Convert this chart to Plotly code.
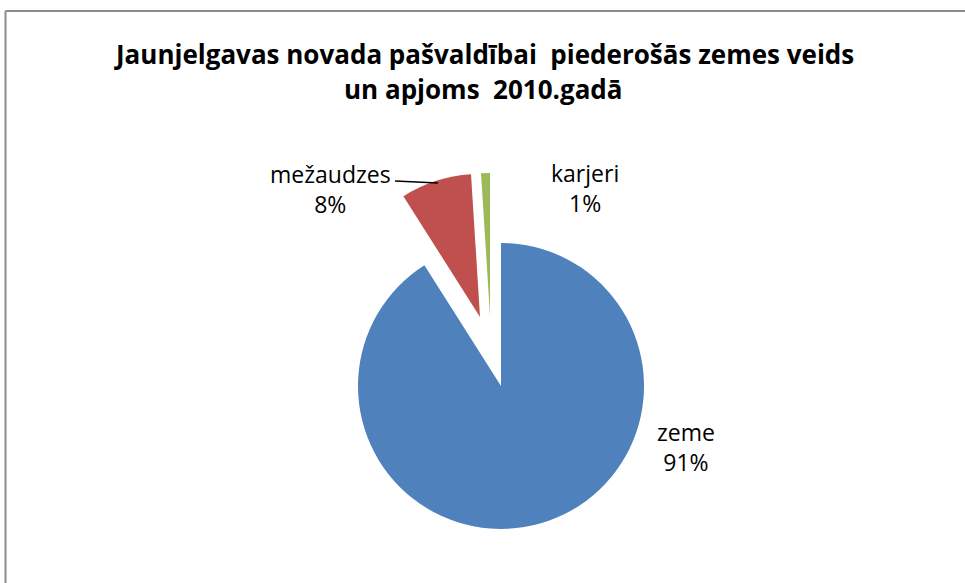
import plotly.graph_objects as go

# ---- data ----
labels = ["zeme", "mežaudzes", "karjeri"]
values = [91, 8, 1]
colors = ["#4F81BD", "#C0504D", "#9BBB59"]
title_lines = ["Jaunjelgavas novada pašvaldībai  piederošās zemes veids",
               "un apjoms  2010.gadā"]

# ---- layout geometry (pixels) ----
W, H = 965, 583
R = 143
# centre of the pie for each (exploded) slice
centers = [(501, 386), (480, 317), (490, 316)]
label_pos = [(686, 447), (330, 189), (585, 188)]
title_pos = [(484, 54), (484, 89)]

total = sum(values)
fig = go.Figure()
for i, (cx, cy) in enumerate(centers):
    cols = [c if j == i else "rgba(0,0,0,0)" for j, c in enumerate(colors)]
    fig.add_trace(go.Pie(
        labels=labels, values=values, sort=False, direction="clockwise", rotation=0,
        marker=dict(colors=cols, line=dict(width=0)),
        textinfo="none", hoverinfo="skip", showlegend=False,
        domain=dict(x=[(cx - R) / W, (cx + R) / W], y=[1 - (cy + R) / H, 1 - (cy - R) / H]),
    ))

annotations = []
for (px, py), lab, v in zip(label_pos, labels, values):
    annotations.append(dict(
        text=f"{lab}<br>{round(v / total * 100)}%", x=px / W, y=1 - py / H,
        xref="paper", yref="paper", xanchor="center", yanchor="middle", showarrow=False,
        font=dict(family="Open Sans", size=23, color="#000000", weight=500),
    ))
for (px, py), line in zip(title_pos, title_lines):
    annotations.append(dict(
        text=line, x=px / W, y=1 - py / H,
        xref="paper", yref="paper", xanchor="center", yanchor="middle", showarrow=False,
        font=dict(family="Open Sans", size=26, color="#000000", weight=700),
    ))

shapes = [
    # chart border (top and left edges visible)
    dict(type="line", xref="paper", yref="paper", x0=5.5 / W, x1=1.0, y0=1 - 11 / H, y1=1 - 11 / H,
         line=dict(color="#8c8c8c", width=2)),
    dict(type="line", xref="paper", yref="paper", x0=5.5 / W, x1=5.5 / W, y0=1 - 11 / H, y1=0,
         line=dict(color="#8c8c8c", width=2)),
    # leader line for "mežaudzes"
    dict(type="line", xref="paper", yref="paper", x0=395 / W, x1=438 / W, y0=1 - 181 / H, y1=1 - 183 / H,
         line=dict(color="#000000", width=1.5)),
]

fig.update_layout(
    width=W, height=H,
    margin=dict(l=0, r=0, t=0, b=0),
    paper_bgcolor="#ffffff", plot_bgcolor="#ffffff",
    annotations=annotations, shapes=shapes,
)
fig.write_html("out.html", config={"displayModeBar": False},
               post_script="document.body.style.margin='0';document.body.style.overflow='hidden';")
